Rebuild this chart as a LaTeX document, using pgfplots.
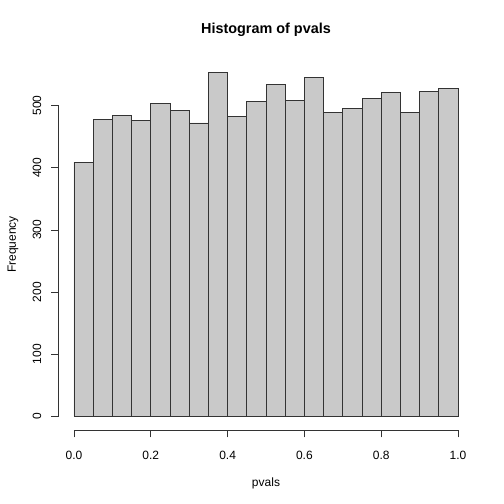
\documentclass[border=0pt]{standalone}
\usepackage{fontspec}
\setmainfont{Liberation Sans}
\usepackage{pgfplots}
\pgfplotsset{compat=1.18}
\definecolor{barfill}{HTML}{C9C9C9}
\definecolor{edge}{HTML}{333333}
\begin{document}
\begin{tikzpicture}
\path[use as bounding box] (-58.6bp,-73.8bp) rectangle (445.4bp,430.2bp);
\begin{axis}[
  at={(0,0)}, anchor=south west,
  scale only axis, width=414.8bp, height=371.4bp,
  xmin=-0.04, xmax=1.04, ymin=-22.12, ymax=575.12,
  axis line style={draw=none},
  tick align=outside, xtick pos=bottom, ytick pos=left,
  major tick length=7.2bp,
  tick style={edge, line width=0.75bp},
  xtick={0,0.2,0.4,0.6,0.8,1.0},
  xticklabels={0.0,0.2,0.4,0.6,0.8,1.0},
  ytick={0,100,200,300,400,500},
  yticklabels={0,100,200,300,400,500},
  xticklabel style={font=\fontsize{12bp}{14bp}\selectfont, anchor=north, inner sep=0pt},
  yticklabel style={font=\fontsize{12bp}{14bp}\selectfont, rotate=90, anchor=south, inner sep=0pt},
  xticklabel shift=13.7bp,
  yticklabel shift=10bp,
  clip=false,
]
\addplot[ybar interval, fill=barfill, draw=edge, line width=0.75bp] coordinates {
(0.00,409) (0.05,478) (0.10,484) (0.15,476) (0.20,504)
(0.25,492) (0.30,472) (0.35,553) (0.40,482) (0.45,507)
(0.50,534) (0.55,508) (0.60,545) (0.65,489) (0.70,495)
(0.75,511) (0.80,521) (0.85,489) (0.90,523) (0.95,528)
(1.00,528)};
\draw[edge, line width=0.75bp] (axis cs:0,-22.12) -- (axis cs:1,-22.12);
\draw[edge, line width=0.75bp] (axis cs:-0.04,0) -- (axis cs:-0.04,500);
\end{axis}
\node[anchor=base, font=\bfseries\fontsize{14.4bp}{17bp}\selectfont, inner sep=0pt] at (207.4bp,396.2bp) {Histogram of pvals};
\node[anchor=base, font=\fontsize{12bp}{14bp}\selectfont, inner sep=0pt] at (207.4bp,-55.8bp) {pvals};
\node[anchor=base, rotate=90, font=\fontsize{12bp}{14bp}\selectfont, inner sep=0pt] at (-42.6bp,185.7bp) {Frequency};
\end{tikzpicture}
\end{document}
